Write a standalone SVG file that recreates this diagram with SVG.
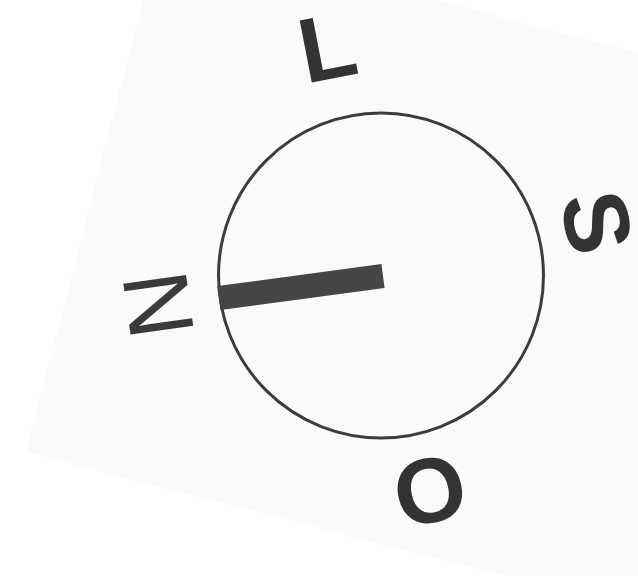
<svg xmlns="http://www.w3.org/2000/svg" width="638" height="576" viewBox="0 0 638 576">
  <style>
    .lbl { font-family: "Liberation Sans", Arial, sans-serif; font-size: 92px; fill: #333333; text-anchor: middle; }
    .bold { font-weight: bold; }
    .thin { font-weight: normal; fill: #3a3a3a; }
    .dial { fill: none; stroke: #3c3c3c; stroke-width: 3; }
    .needle { stroke: #454545; stroke-width: 24; stroke-linecap: butt; }
  </style>
  <rect x="0" y="0" width="638" height="576" fill="#ffffff"/>
  <g id="background" transform="translate(26,452) rotate(14.5)">
    <rect x="0" y="-540" width="900" height="540" fill="#fafafa"/>
  </g>
  <g id="dial">
    <circle class="dial" cx="381" cy="275.5" r="162.5"/>
  </g>
  <g id="connectors">
    <line class="needle" x1="219" y1="298" x2="383" y2="276"/>
  </g>
  <g id="label-L" transform="translate(327,46) rotate(-11)">
    <text class="lbl bold" x="0" y="33">L</text>
  </g>
  <g id="label-S" transform="translate(598,222) rotate(79)">
    <text class="lbl bold" x="0" y="33">S</text>
  </g>
  <g id="label-O" transform="translate(430,492) rotate(167)">
    <text class="lbl bold" x="0" y="33">O</text>
  </g>
  <g id="label-N" transform="translate(157,305) rotate(-98)">
    <text class="lbl thin" x="0" y="33">N</text>
  </g>
</svg>
